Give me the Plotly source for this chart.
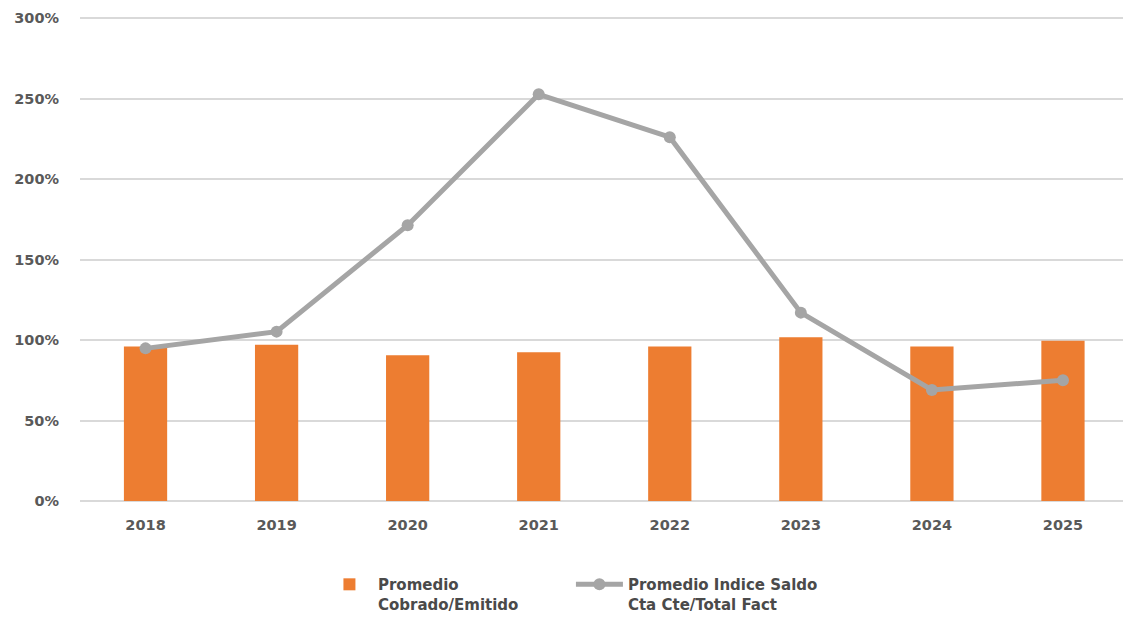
import plotly.graph_objects as go

years = ["2018", "2019", "2020", "2021", "2022", "2023", "2024", "2025"]
cobrado_emitido = [0.96, 0.97, 0.905, 0.924, 0.96, 1.017, 0.96, 0.995]
indice_saldo = [0.948, 1.052, 1.713, 2.526, 2.26, 1.17, 0.69, 0.75]
y_ticks = [0, 0.5, 1.0, 1.5, 2.0, 2.5, 3.0]
y_tick_labels = ["0%", "50%", "100%", "150%", "200%", "250%", "300%"]

FONT = "DejaVu Sans"

fig = go.Figure()
fig.add_trace(go.Bar(
    x=years, y=cobrado_emitido,
    name="Promedio<br>Cobrado/Emitido",
    marker=dict(color="#ED7D31", line=dict(width=0)),
    width=0.33,
))
fig.add_trace(go.Scatter(
    x=years, y=indice_saldo,
    name="Promedio Indice Saldo<br>Cta Cte/Total Fact",
    mode="lines+markers",
    line=dict(color="#A5A5A5", width=5),
    marker=dict(color="#A5A5A5", size=12),
))

fig.update_layout(
    width=1123, height=617,
    margin=dict(l=80, r=0, t=15, b=116, autoexpand=False),
    paper_bgcolor="white", plot_bgcolor="white",
    font=dict(family=FONT, size=14, color="#595959", weight="bold"),
    showlegend=True,
    legend=dict(
        orientation="h", x=0.231, xanchor="left", y=-0.138, yanchor="top",
        valign="top", font=dict(family=FONT, size=15, color="#4A4A4A", weight="bold"),
        itemwidth=47, tracegroupgap=0,
        entrywidth=188, entrywidthmode="pixels",
    ),
    bargap=0.67,
)
fig.update_xaxes(
    type="category", range=[-0.5, 7.458],
    showgrid=False, showline=False, ticks="", zeroline=False,
    tickfont=dict(family=FONT, size=14.5, color="#595959", weight="bold"), ticklabelstandoff=13,
)
fig.update_yaxes(
    range=[0, 3.0186], tickvals=y_ticks, ticktext=y_tick_labels,
    showgrid=True, gridcolor="#D9D9D9", gridwidth=1.5,
    zeroline=True, zerolinecolor="#D9D9D9", zerolinewidth=1.5,
    showline=False, ticks="",
    tickfont=dict(family=FONT, size=14.5, color="#595959", weight="bold"), ticklabelstandoff=20,
)

fig.write_html("out.html", config={"displayModeBar": False},
               post_script="document.body.style.margin='0';")
